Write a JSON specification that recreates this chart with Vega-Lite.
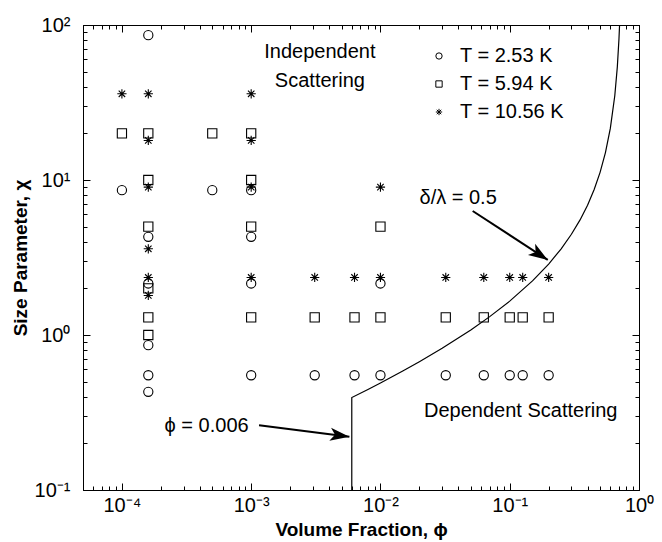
{
  "$schema": "https://vega.github.io/schema/vega-lite/v6.json",
  "width": 556,
  "height": 465,
  "autosize": {"type": "none"},
  "padding": {"left": 83, "top": 25, "right": 23, "bottom": 52},
  "background": "white",
  "config": {
    "font": "Liberation Sans",
    "view": {"stroke": "black", "strokeWidth": 1},
    "axis": {"domainColor": "black", "domainWidth": 1, "tickColor": "black", "tickWidth": 1, "labelColor": "black", "titleColor": "black", "grid": false, "labelFont": "Liberation Sans", "titleFont": "Liberation Sans", "labelOverlap": false, "labelFlush": false, "labelBound": false}
  },
  "resolve": {"axis": {"x": "independent", "y": "independent"}},
  "layer": [
    {
      "data": {"values": [
        {"phi": 0.0001, "chi": 36, "T": "T = 10.56 K"},
        {"phi": 0.0001, "chi": 20, "T": "T = 5.94 K"},
        {"phi": 0.0001, "chi": 8.6, "T": "T = 2.53 K"},
        {"phi": 0.00016, "chi": 86, "T": "T = 2.53 K"},
        {"phi": 0.00016, "chi": 36, "T": "T = 10.56 K"},
        {"phi": 0.00016, "chi": 20, "T": "T = 5.94 K"},
        {"phi": 0.00016, "chi": 18, "T": "T = 10.56 K"},
        {"phi": 0.00016, "chi": 10, "T": "T = 5.94 K"},
        {"phi": 0.00016, "chi": 9, "T": "T = 10.56 K"},
        {"phi": 0.00016, "chi": 5, "T": "T = 5.94 K"},
        {"phi": 0.00016, "chi": 4.3, "T": "T = 2.53 K"},
        {"phi": 0.00016, "chi": 3.6, "T": "T = 10.56 K"},
        {"phi": 0.00016, "chi": 2.35, "T": "T = 10.56 K"},
        {"phi": 0.00016, "chi": 2.15, "T": "T = 2.53 K"},
        {"phi": 0.00016, "chi": 2.0, "T": "T = 5.94 K"},
        {"phi": 0.00016, "chi": 1.8, "T": "T = 10.56 K"},
        {"phi": 0.00016, "chi": 1.3, "T": "T = 5.94 K"},
        {"phi": 0.00016, "chi": 1.0, "T": "T = 5.94 K"},
        {"phi": 0.00016, "chi": 0.86, "T": "T = 2.53 K"},
        {"phi": 0.00016, "chi": 0.55, "T": "T = 2.53 K"},
        {"phi": 0.00016, "chi": 0.43, "T": "T = 2.53 K"},
        {"phi": 0.0005, "chi": 20, "T": "T = 5.94 K"},
        {"phi": 0.0005, "chi": 8.6, "T": "T = 2.53 K"},
        {"phi": 0.001, "chi": 36, "T": "T = 10.56 K"},
        {"phi": 0.001, "chi": 20, "T": "T = 5.94 K"},
        {"phi": 0.001, "chi": 18, "T": "T = 10.56 K"},
        {"phi": 0.001, "chi": 10, "T": "T = 5.94 K"},
        {"phi": 0.001, "chi": 9, "T": "T = 10.56 K"},
        {"phi": 0.001, "chi": 8.6, "T": "T = 2.53 K"},
        {"phi": 0.001, "chi": 5, "T": "T = 5.94 K"},
        {"phi": 0.001, "chi": 4.3, "T": "T = 2.53 K"},
        {"phi": 0.001, "chi": 2.35, "T": "T = 10.56 K"},
        {"phi": 0.001, "chi": 2.15, "T": "T = 2.53 K"},
        {"phi": 0.001, "chi": 1.3, "T": "T = 5.94 K"},
        {"phi": 0.001, "chi": 0.55, "T": "T = 2.53 K"},
        {"phi": 0.0031, "chi": 2.35, "T": "T = 10.56 K"},
        {"phi": 0.0031, "chi": 1.3, "T": "T = 5.94 K"},
        {"phi": 0.0031, "chi": 0.55, "T": "T = 2.53 K"},
        {"phi": 0.0063, "chi": 2.35, "T": "T = 10.56 K"},
        {"phi": 0.0063, "chi": 1.3, "T": "T = 5.94 K"},
        {"phi": 0.0063, "chi": 0.55, "T": "T = 2.53 K"},
        {"phi": 0.01, "chi": 9, "T": "T = 10.56 K"},
        {"phi": 0.01, "chi": 5, "T": "T = 5.94 K"},
        {"phi": 0.01, "chi": 2.35, "T": "T = 10.56 K"},
        {"phi": 0.01, "chi": 2.15, "T": "T = 2.53 K"},
        {"phi": 0.01, "chi": 1.3, "T": "T = 5.94 K"},
        {"phi": 0.01, "chi": 0.55, "T": "T = 2.53 K"},
        {"phi": 0.032, "chi": 2.35, "T": "T = 10.56 K"},
        {"phi": 0.032, "chi": 1.3, "T": "T = 5.94 K"},
        {"phi": 0.032, "chi": 0.55, "T": "T = 2.53 K"},
        {"phi": 0.063, "chi": 2.35, "T": "T = 10.56 K"},
        {"phi": 0.063, "chi": 1.3, "T": "T = 5.94 K"},
        {"phi": 0.063, "chi": 0.55, "T": "T = 2.53 K"},
        {"phi": 0.1, "chi": 2.35, "T": "T = 10.56 K"},
        {"phi": 0.1, "chi": 1.3, "T": "T = 5.94 K"},
        {"phi": 0.1, "chi": 0.55, "T": "T = 2.53 K"},
        {"phi": 0.126, "chi": 2.35, "T": "T = 10.56 K"},
        {"phi": 0.126, "chi": 1.3, "T": "T = 5.94 K"},
        {"phi": 0.126, "chi": 0.55, "T": "T = 2.53 K"},
        {"phi": 0.2, "chi": 2.35, "T": "T = 10.56 K"},
        {"phi": 0.2, "chi": 1.3, "T": "T = 5.94 K"},
        {"phi": 0.2, "chi": 0.55, "T": "T = 2.53 K"}
      ]},
      "mark": {"type": "point", "filled": false, "color": "black", "strokeWidth": 1.1, "size": 85, "opacity": 1, "clip": true},
      "encoding": {
        "x": {
          "field": "phi", "type": "quantitative",
          "scale": {"type": "log", "domain": [0.00005, 1], "nice": false},
          "axis": {
            "orient": "bottom",
            "values": [0.00006, 0.00007, 0.00008, 0.00009, 0.0001, 0.0002, 0.0003, 0.0004, 0.0005, 0.0006, 0.0007, 0.0008, 0.0009, 0.001, 0.002, 0.003, 0.004, 0.005, 0.006, 0.007, 0.008, 0.009, 0.01, 0.02, 0.03, 0.04, 0.05, 0.06, 0.07, 0.08, 0.09, 0.1, 0.2, 0.3, 0.4, 0.5, 0.6, 0.7, 0.8, 0.9, 1],
            "labelExpr": "datum.value == 1 ? '10⁰' : datum.value == 0.1 ? '10⁻¹' : datum.value == 0.01 ? '10⁻²' : datum.value == 0.001 ? '10⁻³' : datum.value == 0.0001 ? '10⁻⁴' : ''",
            "tickSize": {"condition": {"test": "datum.value == 1 || datum.value == 0.1 || datum.value == 0.01 || datum.value == 0.001 || datum.value == 0.0001", "value": -7}, "value": -4},
            "labelPadding": 12,
            "labelFontSize": 20,
            "title": "Volume Fraction, ϕ",
            "titleFontSize": 19,
            "titleFontWeight": "bold",
            "titlePadding": 2
          }
        },
        "y": {
          "field": "chi", "type": "quantitative",
          "scale": {"type": "log", "domain": [0.1, 100], "nice": false},
          "axis": {
            "orient": "left",
            "values": [0.1, 0.2, 0.3, 0.4, 0.5, 0.6, 0.7, 0.8, 0.9, 1, 2, 3, 4, 5, 6, 7, 8, 9, 10, 20, 30, 40, 50, 60, 70, 80, 90, 100],
            "labelExpr": "datum.value == 100 ? '10²' : datum.value == 10 ? '10¹' : datum.value == 1 ? '10⁰' : datum.value == 0.1 ? '10⁻¹' : ''",
            "tickSize": {"condition": {"test": "datum.value == 100 || datum.value == 10 || datum.value == 1 || datum.value == 0.1", "value": -7}, "value": -4},
            "labelPadding": 20,
            "labelFontSize": 20,
            "title": "Size Parameter, χ",
            "titleFontSize": 19,
            "titleFontWeight": "bold",
            "titlePadding": 4
          }
        },
        "shape": {
          "field": "T", "type": "nominal",
          "scale": {"domain": ["T = 2.53 K", "T = 5.94 K", "T = 10.56 K"], "range": ["circle", "square", "M0,-1L0,1M-1,0L1,0M-0.7,-0.7L0.7,0.7M-0.7,0.7L0.7,-0.7"]},
          "legend": {"title": null, "orient": "none", "legendX": 346, "legendY": 21, "padding": 0, "labelFontSize": 20, "labelFont": "Liberation Sans", "labelColor": "black", "symbolSize": 40, "symbolStrokeWidth": 1, "symbolStrokeColor": "black", "rowPadding": 8, "labelOffset": 11}
        }
      }
    },
    {
      "data": {"values": [
        {"i": 1, "phi": 0.006, "chi": 0.1},
        {"i": 2, "phi": 0.006, "chi": 0.3947},
        {"i": 3, "phi": 0.008, "chi": 0.4456},
        {"i": 4, "phi": 0.01, "chi": 0.4908},
        {"i": 5, "phi": 0.015, "chi": 0.5884},
        {"i": 6, "phi": 0.02, "chi": 0.673},
        {"i": 7, "phi": 0.03, "chi": 0.8213},
        {"i": 8, "phi": 0.05, "chi": 1.078},
        {"i": 9, "phi": 0.07, "chi": 1.314},
        {"i": 10, "phi": 0.1, "chi": 1.654},
        {"i": 11, "phi": 0.15, "chi": 2.234},
        {"i": 12, "phi": 0.2, "chi": 2.869},
        {"i": 13, "phi": 0.25, "chi": 3.598},
        {"i": 14, "phi": 0.3, "chi": 4.464},
        {"i": 15, "phi": 0.35, "chi": 5.527},
        {"i": 16, "phi": 0.4, "chi": 6.881},
        {"i": 17, "phi": 0.45, "chi": 8.679},
        {"i": 18, "phi": 0.5, "chi": 11.2},
        {"i": 19, "phi": 0.55, "chi": 15.02},
        {"i": 20, "phi": 0.6, "chi": 21.52},
        {"i": 21, "phi": 0.65, "chi": 35.06},
        {"i": 22, "phi": 0.68, "chi": 53.9},
        {"i": 23, "phi": 0.7, "chi": 81.6},
        {"i": 24, "phi": 0.7075, "chi": 100}
      ]},
      "mark": {"type": "line", "color": "black", "strokeWidth": 1.2, "clip": true},
      "encoding": {
        "x": {
          "field": "phi", "type": "quantitative",
          "scale": {"type": "log", "domain": [0.00005, 1], "nice": false},
          "axis": {
            "orient": "top",
            "values": [0.00006, 0.00007, 0.00008, 0.00009, 0.0001, 0.0002, 0.0003, 0.0004, 0.0005, 0.0006, 0.0007, 0.0008, 0.0009, 0.001, 0.002, 0.003, 0.004, 0.005, 0.006, 0.007, 0.008, 0.009, 0.01, 0.02, 0.03, 0.04, 0.05, 0.06, 0.07, 0.08, 0.09, 0.1, 0.2, 0.3, 0.4, 0.5, 0.6, 0.7, 0.8, 0.9, 1],
            "labels": false,
            "title": null,
            "tickSize": {"condition": {"test": "datum.value == 1 || datum.value == 0.1 || datum.value == 0.01 || datum.value == 0.001 || datum.value == 0.0001", "value": -7}, "value": -4}
          }
        },
        "y": {
          "field": "chi", "type": "quantitative",
          "scale": {"type": "log", "domain": [0.1, 100], "nice": false},
          "axis": {
            "orient": "right",
            "values": [0.1, 0.2, 0.3, 0.4, 0.5, 0.6, 0.7, 0.8, 0.9, 1, 2, 3, 4, 5, 6, 7, 8, 9, 10, 20, 30, 40, 50, 60, 70, 80, 90, 100],
            "labels": false,
            "title": null,
            "tickSize": {"condition": {"test": "datum.value == 100 || datum.value == 10 || datum.value == 1 || datum.value == 0.1", "value": -7}, "value": -4}
          }
        },
        "order": {"field": "i", "type": "quantitative"}
      }
    },
    {
      "data": {"values": [
        {"phi": 0.0034, "chi": 61.3, "label": "Independent"},
        {"phi": 0.0034, "chi": 39.8, "label": "Scattering"},
        {"phi": 0.1217, "chi": 0.296, "label": "Dependent Scattering"},
        {"phi": 0.0399, "chi": 7.0, "label": "δ/λ = 0.5"},
        {"phi": 0.000452, "chi": 0.2366, "label": "ϕ = 0.006"}
      ]},
      "mark": {"type": "text", "fontSize": 20, "font": "Liberation Sans", "color": "black", "align": "center", "baseline": "alphabetic"},
      "encoding": {
        "x": {"field": "phi", "type": "quantitative", "scale": {"type": "log", "domain": [0.00005, 1], "nice": false}, "axis": null},
        "y": {"field": "chi", "type": "quantitative", "scale": {"type": "log", "domain": [0.1, 100], "nice": false}, "axis": null},
        "text": {"field": "label", "type": "nominal"}
      }
    },
    {
      "data": {"values": [
        {"phi": 0.0517, "chi": 6.31, "phi2": 0.197, "chi2": 3.05},
        {"phi": 0.00115, "chi": 0.262, "phi2": 0.00575, "chi2": 0.2206}
      ]},
      "mark": {"type": "rule", "color": "black", "strokeWidth": 2},
      "encoding": {
        "x": {"field": "phi", "type": "quantitative", "scale": {"type": "log", "domain": [0.00005, 1], "nice": false}, "axis": null},
        "y": {"field": "chi", "type": "quantitative", "scale": {"type": "log", "domain": [0.1, 100], "nice": false}, "axis": null},
        "x2": {"field": "phi2"},
        "y2": {"field": "chi2"}
      }
    },
    {
      "data": {"values": [{"phi": 0.197, "chi": 3.05}]},
      "mark": {"type": "point", "shape": "M0,0L-1,-0.34L-0.75,0L-1,0.34Z", "filled": true, "color": "black", "opacity": 1, "size": 1500, "angle": 33},
      "encoding": {
        "x": {"field": "phi", "type": "quantitative", "scale": {"type": "log", "domain": [0.00005, 1], "nice": false}, "axis": null},
        "y": {"field": "chi", "type": "quantitative", "scale": {"type": "log", "domain": [0.1, 100], "nice": false}, "axis": null}
      }
    },
    {
      "data": {"values": [{"phi": 0.00575, "chi": 0.2206}]},
      "mark": {"type": "point", "shape": "M0,0L-1,-0.34L-0.75,0L-1,0.34Z", "filled": true, "color": "black", "opacity": 1, "size": 1500, "angle": 7.6},
      "encoding": {
        "x": {"field": "phi", "type": "quantitative", "scale": {"type": "log", "domain": [0.00005, 1], "nice": false}, "axis": null},
        "y": {"field": "chi", "type": "quantitative", "scale": {"type": "log", "domain": [0.1, 100], "nice": false}, "axis": null}
      }
    }
  ]
}
